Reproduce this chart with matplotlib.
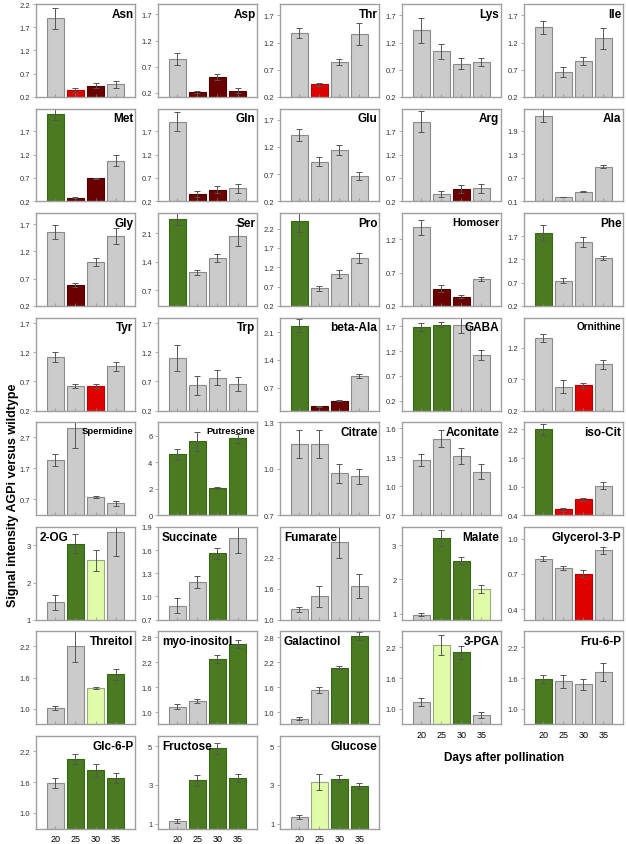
import matplotlib
matplotlib.use("Agg")
import matplotlib.pyplot as plt

plt.rcParams['font.family'] = ['Liberation Sans', 'DejaVu Sans']

days = ['20', '25', '30', '35']

names = ['Asn', 'Asp', 'Thr', 'Lys', 'Ile',
         'Met', 'Gln', 'Glu', 'Arg', 'Ala',
         'Gly', 'Ser', 'Pro', 'Homoser', 'Phe',
         'Tyr', 'Trp', 'beta-Ala', 'GABA', 'Ornithine',
         'Spermidine', 'Putrescine', 'Citrate', 'Aconitate', 'iso-Cit',
         '2-OG', 'Succinate', 'Fumarate', 'Malate', 'Glycerol-3-P',
         'Threitol', 'myo-inositol', 'Galactinol', '3-PGA', 'Fru-6-P',
         'Glc-6-P', 'Fructose', 'Glucose']

values = [[1.89, 0.34, 0.44, 0.47], [0.85, 0.21, 0.50, 0.24], [1.38, 0.43, 0.84, 1.36],
          [1.43, 1.04, 0.81, 0.84], [1.48, 0.66, 0.86, 1.28],
          [2.06, 0.28, 0.69, 1.07], [1.90, 0.36, 0.45, 0.48], [1.41, 0.93, 1.14, 0.66],
          [1.90, 0.36, 0.46, 0.48], [2.28, 0.21, 0.35, 0.98],
          [1.55, 0.59, 1.00, 1.48], [2.46, 1.14, 1.50, 2.04], [2.39, 0.66, 1.03, 1.44],
          [1.38, 0.46, 0.34, 0.61], [1.76, 0.74, 1.57, 1.23],
          [1.12, 0.62, 0.62, 0.96], [1.10, 0.63, 0.76, 0.65], [2.26, 0.23, 0.37, 0.99],
          [1.69, 1.73, 1.72, 1.12], [1.36, 0.58, 0.60, 0.94],
          [1.96, 3.00, 0.77, 0.57], [4.58, 5.56, 2.05, 5.80], [1.16, 1.16, 0.97, 0.95],
          [1.27, 1.49, 1.31, 1.15], [2.20, 0.52, 0.73, 1.02],
          [1.47, 3.05, 2.60, 3.35], [0.88, 1.19, 1.56, 1.76], [1.20, 1.45, 2.50, 1.66],
          [0.97, 3.20, 2.55, 1.72], [0.83, 0.75, 0.70, 0.90],
          [1.02, 2.20, 1.40, 1.66], [1.13, 1.26, 2.28, 2.64], [0.84, 1.53, 2.07, 2.83],
          [1.13, 2.25, 2.10, 0.88], [1.58, 1.54, 1.48, 1.72],
          [1.58, 2.05, 1.83, 1.68], [1.15, 3.23, 4.88, 3.35], [1.35, 3.15, 3.32, 2.93]]

errors = [[0.22, 0.05, 0.06, 0.07], [0.12, 0.02, 0.05, 0.05], [0.09, 0.03, 0.06, 0.20],
          [0.23, 0.14, 0.10, 0.07], [0.12, 0.09, 0.07, 0.19],
          [0.13, 0.01, 0.02, 0.12], [0.20, 0.07, 0.08, 0.09], [0.11, 0.08, 0.09, 0.07],
          [0.22, 0.06, 0.08, 0.09], [0.16, 0.01, 0.02, 0.04],
          [0.13, 0.04, 0.07, 0.15], [0.17, 0.06, 0.10, 0.26], [0.27, 0.06, 0.10, 0.12],
          [0.11, 0.05, 0.02, 0.03], [0.17, 0.05, 0.10, 0.04],
          [0.08, 0.04, 0.03, 0.08], [0.23, 0.16, 0.13, 0.12], [0.17, 0.01, 0.02, 0.04],
          [0.08, 0.05, 0.15, 0.11], [0.06, 0.10, 0.04, 0.07],
          [0.19, 0.65, 0.03, 0.08], [0.44, 0.73, 0.10, 0.35], [0.09, 0.09, 0.06, 0.05],
          [0.06, 0.09, 0.08, 0.08], [0.12, 0.03, 0.03, 0.07],
          [0.20, 0.25, 0.28, 0.63], [0.10, 0.08, 0.07, 0.20], [0.05, 0.20, 0.30, 0.23],
          [0.04, 0.23, 0.09, 0.11], [0.02, 0.02, 0.03, 0.03],
          [0.04, 0.30, 0.02, 0.10], [0.06, 0.05, 0.09, 0.10], [0.04, 0.08, 0.04, 0.10],
          [0.08, 0.20, 0.13, 0.05], [0.08, 0.13, 0.11, 0.17],
          [0.10, 0.10, 0.13, 0.10], [0.10, 0.30, 0.30, 0.20], [0.10, 0.40, 0.17, 0.15]]

# g grey, G green, l light green, r red, d dark red
codes = ['grdg', 'gddd', 'grgg', 'gggg', 'gggg',
         'Gddg', 'gddg', 'gggg', 'ggdg', 'gggg',
         'gdgg', 'Gggg', 'Gggg', 'gddg', 'Gggg',
         'ggrg', 'gggg', 'Gddg', 'GGgg', 'ggrg',
         'gggg', 'GGGG', 'gggg', 'gggg', 'Grrg',
         'gGlg', 'ggGg', 'gggg', 'gGGl', 'ggrg',
         'gglG', 'ggGG', 'ggGG', 'glGg', 'Gggg',
         'gGGG', 'gGGG', 'glGG']

ylims = [(0.2, 2.2), (0.12, 1.9), (0.2, 1.91), (0.2, 1.91), (0.2, 1.91),
         (0.2, 2.18), (0.2, 2.18), (0.2, 1.9), (0.2, 2.18), (0.1, 2.46),
         (0.2, 1.9), (0.32, 2.59), (0.2, 2.6), (0.2, 1.59), (0.2, 2.19),
         (0.2, 1.79), (0.2, 1.79), (0.12, 2.46), (0.0, 1.87), (0.2, 1.68),
         (0.19, 3.19), (0.0, 7.0), (0.7, 1.3), (0.7, 1.66), (0.4, 2.35),
         (1.0, 3.5), (0.7, 1.9), (1.0, 2.8), (0.83, 3.53), (0.31, 1.1),
         (0.7, 2.49), (0.71, 2.94), (0.71, 2.94), (0.7, 2.51), (0.7, 2.51),
         (0.69, 2.5), (0.74, 5.52), (0.74, 5.52)]

yticks = [[0.2, 0.7, 1.2, 1.7, 2.2], [0.2, 0.7, 1.2, 1.7], [0.2, 0.7, 1.2, 1.7],
          [0.2, 0.7, 1.2, 1.7], [0.2, 0.7, 1.2, 1.7],
          [0.2, 0.7, 1.2, 1.7], [0.2, 0.7, 1.2, 1.7], [0.2, 0.7, 1.2, 1.7],
          [0.2, 0.7, 1.2, 1.7], [0.1, 0.7, 1.3, 1.9],
          [0.2, 0.7, 1.2, 1.7], [0.7, 1.4, 2.1], [0.2, 0.7, 1.2, 1.7, 2.2],
          [0.2, 0.7, 1.2], [0.2, 0.7, 1.2, 1.7],
          [0.2, 0.7, 1.2, 1.7], [0.2, 0.7, 1.2, 1.7], [0.7, 1.4, 2.1],
          [0.2, 0.7, 1.2, 1.7], [0.2, 0.7, 1.2],
          [0.7, 1.7, 2.7], [0, 2, 4, 6], [0.7, 1.0, 1.3], [0.7, 1.0, 1.3, 1.6],
          [0.4, 1.0, 1.6, 2.2],
          [1, 2, 3], [0.7, 1.0, 1.3, 1.6, 1.9], [1.0, 1.6, 2.2], [1, 2, 3], [0.4, 0.7, 1.0],
          [1.0, 1.6, 2.2], [1.0, 1.6, 2.2, 2.8], [1.0, 1.6, 2.2, 2.8], [1.0, 1.6, 2.2],
          [1.0, 1.6, 2.2],
          [1.0, 1.6, 2.2], [1, 3, 5], [1, 3, 5]]

left_titles = ['2-OG', 'Succinate', 'Fumarate', 'myo-inositol', 'Galactinol', 'Fructose']
small_titles = {'Spermidine': 6.8, 'Putrescine': 6.8, 'Ornithine': 7.2, 'Homoser': 7.8}
xlabel_panels = ['3-PGA', 'Fru-6-P', 'Glc-6-P', 'Fructose', 'Glucose']

fill = {'g': '#cbcbcb', 'G': '#4a7b20', 'l': '#e0fca8', 'r': '#e00000', 'd': '#6a0000'}
edge = {'g': '#8a8a8a', 'G': '#3a6418', 'l': '#9aa880', 'r': '#b00000', 'd': '#4a0000'}

fig = plt.figure(figsize=(6.26, 8.45), dpi=100)
gs = fig.add_gridspec(8, 5, left=0.0575, right=0.995, top=0.994, bottom=0.018,
                      wspace=0.232, hspace=0.127)

x = [1, 2, 3, 4]
for i, name in enumerate(names):
    ax = fig.add_subplot(gs[i // 5, i % 5])
    lo, hi = ylims[i]
    cols = [fill[c] for c in codes[i]]
    ecols = [edge[c] for c in codes[i]]
    heights = [v - lo for v in values[i]]
    ax.bar(x, heights, bottom=lo, width=0.86, color=cols, edgecolor=ecols, linewidth=0.8)
    ax.errorbar(x, values[i], yerr=errors[i], fmt='none', ecolor='#555555',
                elinewidth=0.7, capsize=2.5, capthick=0.7)
    ax.set_xlim(0.03, 4.97)
    ax.set_ylim(lo, hi)
    ax.set_yticks(yticks[i])
    ax.set_yticklabels([str(t) for t in yticks[i]])
    ax.tick_params(axis='y', labelsize=5.5, length=2, width=0.5, color='#888888', pad=2,
                   labelcolor='#333333')
    ax.set_xticks(x)
    if name in xlabel_panels:
        ax.set_xticklabels(days)
        ax.tick_params(axis='x', labelsize=6.5, length=2, width=0.5, color='#888888',
                       direction='in', pad=4)
    else:
        ax.set_xticklabels([])
        ax.tick_params(axis='x', length=2, width=0.5, color='#888888', direction='in')
    for s in ax.spines.values():
        s.set_color('#a0a0a0')
        s.set_linewidth(1.0)
    size = small_titles.get(name, 8.5)
    if name in left_titles:
        ax.text(0.04, 0.96, name, transform=ax.transAxes, ha='left', va='top',
                fontsize=size, fontweight='bold')
    else:
        ax.text(0.985, 0.96, name, transform=ax.transAxes, ha='right', va='top',
                fontsize=size, fontweight='bold')

fig.text(0.021, 0.414, 'Signal intensity AGPi versus wildtype', rotation=90,
         ha='center', va='center', fontsize=9, fontweight='bold')
fig.text(0.806, 0.103, 'Days after pollination', ha='center', va='center',
         fontsize=8.5, fontweight='bold')

fig.savefig('out.png', dpi=100)
